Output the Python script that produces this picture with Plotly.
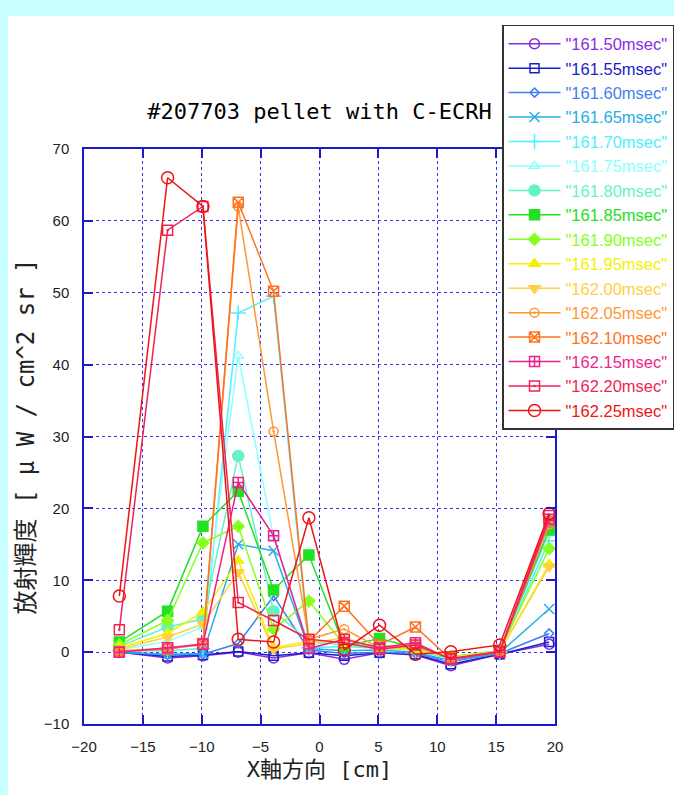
import plotly.graph_objects as go

# Chord positions along the X axis [cm]
x_cm = [-17.0, -12.9, -9.9, -6.9, -3.9, -0.9, 2.1, 5.1, 8.15, 11.15, 15.3, 19.5]

# Time-slice labels
times = ["161.50", "161.55", "161.60", "161.65", "161.70", "161.75", "161.80", "161.85",
         "161.90", "161.95", "162.00", "162.05", "162.10", "162.15", "162.20", "162.25"]

# Radiance profiles [uW / cm^2 sr], one list per time slice
t16150 = [0.0, -0.8, -0.5, 0.0, -0.8, -0.1, -1.0, -0.1, -0.4, -1.9, -0.3, 1.1]
t16155 = [0.0, -0.6, -0.4, 0.1, -0.5, -0.1, -0.5, -0.1, -0.3, -1.7, -0.3, 1.4]
t16160 = [0.0, -0.4, -0.3, 1.2, 7.8, 0.3, -0.2, 0.0, -0.2, -1.3, -0.2, 2.6]
t16165 = [0.0, -0.3, -0.2, 15.0, 14.1, 0.5, 0.2, 0.3, 0.0, -1.2, -0.1, 6.0]
t16170 = [0.2, 0.2, 0.5, 47.2, 49.5, 0.6, 0.8, 0.5, 0.3, -1.0, 0.0, 15.5]
t16175 = [0.3, 1.5, 3.5, 41.2, 16.0, 1.0, 1.5, 0.6, 0.5, -0.8, 0.1, 16.5]
t16180 = [0.8, 3.5, 4.6, 27.3, 5.7, 1.5, 1.0, 1.0, 0.5, -0.8, 0.2, 18.0]
t16185 = [1.4, 5.7, 17.5, 22.4, 8.65, 13.5, 0.8, 1.9, 0.6, -0.7, 0.2, 17.0]
t16190 = [1.0, 4.4, 15.2, 17.5, 3.2, 7.1, 1.0, 0.8, 0.5, -0.6, 0.2, 14.4]
t16195 = [0.6, 2.6, 5.6, 12.7, 0.6, 1.5, 1.2, 0.6, 0.3, -0.7, 0.1, 12.2]
t16200 = [0.4, 2.1, 3.9, 11.1, 0.4, 1.2, 2.0, 0.5, 0.5, -0.8, 0.1, 11.9]
t16205 = [0.2, 0.5, 1.0, 62.0, 30.7, 1.8, 3.2, 0.6, 1.0, -1.0, 0.0, 17.8]
t16210 = [0.1, 0.4, 1.2, 62.6, 50.2, 1.5, 6.4, 1.0, 3.5, -1.0, 0.0, 18.2]
t16215 = [0.0, 0.6, 1.1, 23.6, 16.2, 0.5, 1.8, 0.6, 1.3, -1.0, 0.0, 18.5]
t16220 = [3.1, 58.7, 62.0, 6.9, 4.4, 1.8, 1.3, 0.4, 1.0, -0.9, 0.1, 19.0]
t16225 = [7.8, 66.0, 62.0, 1.8, 1.4, 18.7, 0.3, 3.75, -0.3, 0.05, 1.0, 19.3]

profiles = [t16150, t16155, t16160, t16165, t16170, t16175, t16180, t16185,
            t16190, t16195, t16200, t16205, t16210, t16215, t16220, t16225]

colors = ["#8a2be2", "#1c1cc8", "#3f7ff0", "#25aee8", "#4ff0ff", "#8cffff",
          "#66f2c6", "#22e022", "#86ff22", "#f2f200", "#ffd040", "#ff9733",
          "#ff7220", "#f01e8c", "#ee2455", "#ee1414"]

symbols = ["circle-open", "square-open", "diamond-open", "x-thin-open", "cross-thin-open",
           "triangle-up-open", "circle", "square", "diamond", "triangle-up", "triangle-down",
           "circle-open-dot", "square-x-open", "square-cross-open", "square-open-dot", "circle-open"]

sizes = [10, 9, 7, 10, 11, 9, 11, 10, 9, 10, 10, 9, 10, 10, 10, 12]

fig = go.Figure()
for t, y, c, s, sz in zip(times, profiles, colors, symbols, sizes):
    fig.add_trace(go.Scatter(
        x=x_cm, y=y, mode="lines+markers",
        name=f'<span style="color:{c}">"{t}msec"</span>',
        line=dict(color=c, width=1.5),
        marker=dict(symbol=s, size=sz, color=c, line=dict(color=c, width=1.5)),
    ))

axis_blue = "#1a1ad0"
grid_blue = "#3535e6"
tick_font = dict(family="Liberation Sans, Arial, sans-serif", size=15, color="#222222")
label_family = "DejaVu Sans Mono, Noto Sans CJK JP, monospace"

fig.update_layout(
    width=674, height=795,
    margin=dict(l=84, r=119, t=149, b=71, autoexpand=False),
    paper_bgcolor="#c8fefe",
    plot_bgcolor="white",
    showlegend=True,
    title=dict(
        text="#207703 pellet with C-ECRH",
        font=dict(family="DejaVu Sans Mono, monospace", size=22, color="black"),
        x=0.5, xref="paper", xanchor="center",
        y=1 - 111 / 795, yref="container", yanchor="middle",
    ),
    legend=dict(
        x=0.8875, y=1.2157, xanchor="left", yanchor="top",
        bgcolor="white", bordercolor="#333333", borderwidth=1.5,
        font=dict(family="Liberation Sans, Arial, sans-serif", size=16.5),
        itemwidth=52, tracegroupgap=0, maxheight=900,
    ),
    xaxis=dict(
        range=[-20, 20], dtick=5, tick0=-20,
        showline=True, linecolor=axis_blue, linewidth=1.5, mirror="ticks",
        ticks="inside", ticklen=9, tickwidth=1.5, tickcolor=axis_blue,
        showgrid=True, gridcolor=grid_blue, gridwidth=1, griddash="dot",
        zeroline=False, tickfont=tick_font, ticklabelstandoff=8,
        title=dict(text="X軸方向 [cm]", standoff=8,
                   font=dict(family=label_family, size=22, color="#222222")),
    ),
    yaxis=dict(
        range=[-10, 70], dtick=10, tick0=-10,
        showline=True, linecolor=axis_blue, linewidth=1.5, mirror="ticks",
        ticks="inside", ticklen=9, tickwidth=1.5, tickcolor=axis_blue,
        showgrid=True, gridcolor=grid_blue, gridwidth=1, griddash="dot",
        zeroline=False, tickfont=tick_font, ticklabelstandoff=10,
        title=dict(text="放射輝度 [ μ W / cm^2 sr ]", standoff=2,
                   font=dict(family=label_family, size=24, color="#222222")),
    ),
    shapes=[dict(type="rect", xref="paper", yref="paper", layer="below",
                 x0=-0.1614, x1=1.4, y0=-0.2, y1=1.2313,
                 fillcolor="white", line=dict(width=0))],
)

fig.write_html("out.html")
